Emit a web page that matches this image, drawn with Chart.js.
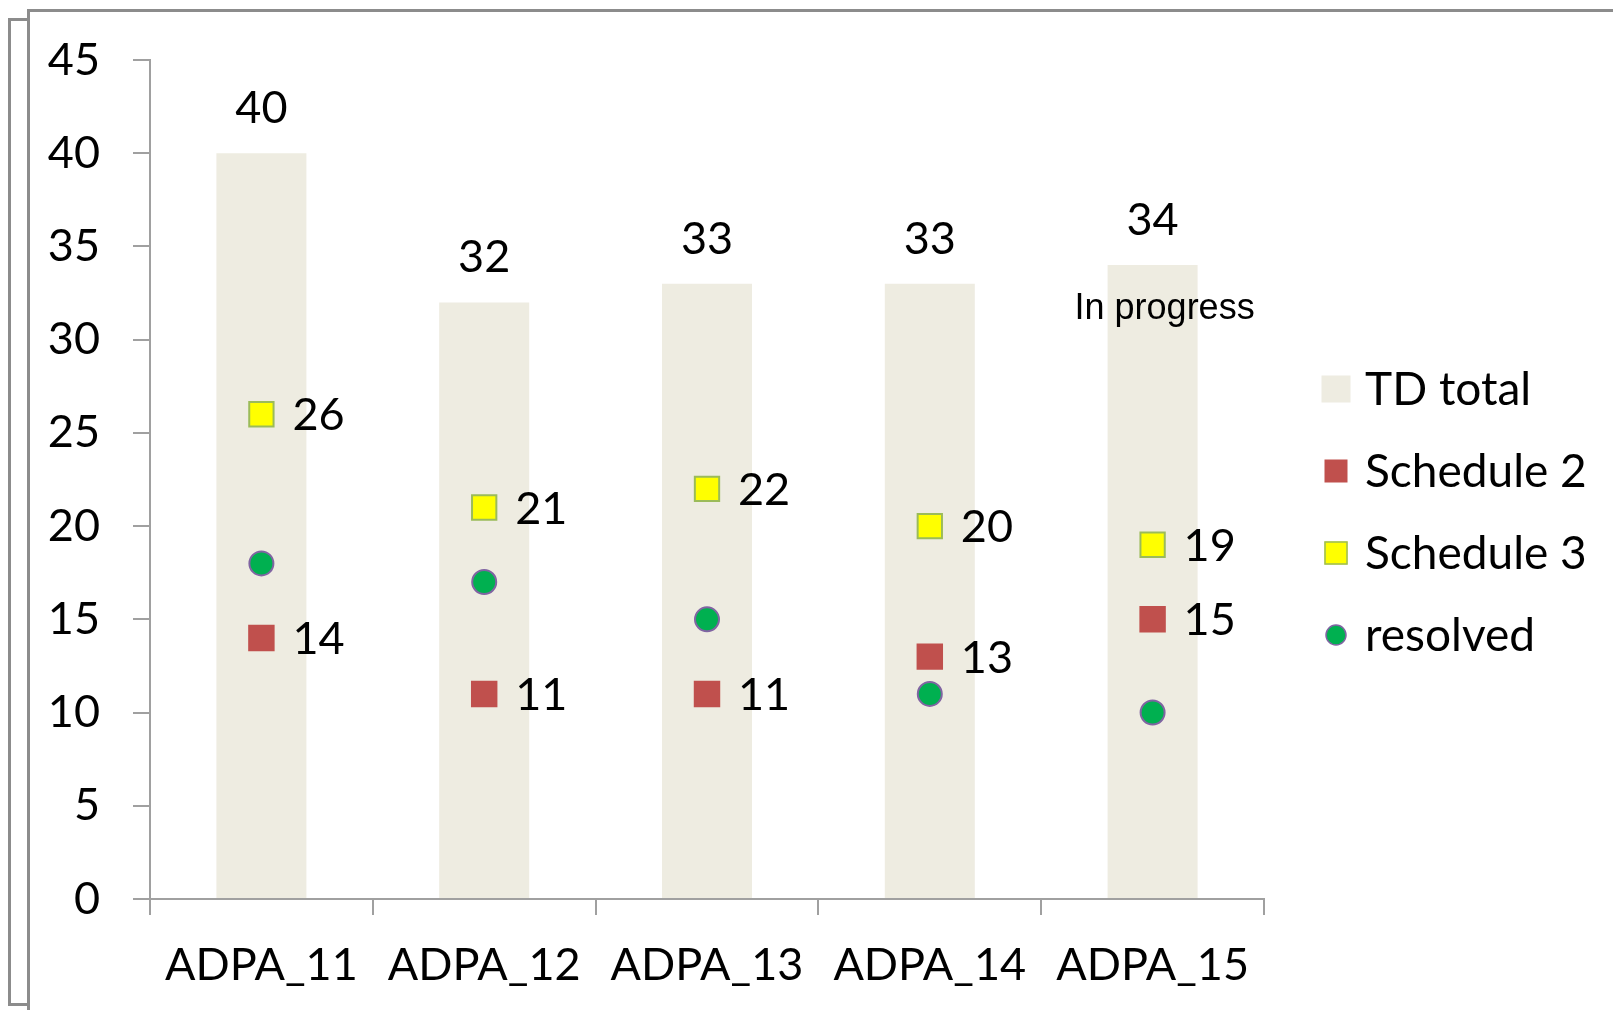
<!DOCTYPE html>
<html lang="en">
<head>
  <meta charset="UTF-8">
  <title>TD per release</title>
  <script src="https://cdn.jsdelivr.net/npm/chart.js"></script>
  <style>
    html, body {
      margin: 0;
      padding: 0;
      background: #fff;
    }
    .wrap {
      position: relative;
      width: 1613px;
      height: 1010px;
      overflow: hidden;
    }
    .frame {
      position: absolute;
      border: 3px solid #8c8c8c;
    }
    canvas {
      position: absolute;
      left: 0;
      top: 0;
    }
  </style>
</head>
<body>

  <div class="wrap">
    <div class="frame" style="left:8px; top:18px; width:20px; height:982px;"></div>
    <div class="frame" style="left:27px; top:9px; width:1700px; height:1100px; background:#fff;"></div>
    <canvas id="tdChart" width="1613" height="1010"></canvas>
  </div>

  <script>
    const categories = ['ADPA_11', 'ADPA_12', 'ADPA_13', 'ADPA_14', 'ADPA_15'];
    const tdTotal = [40, 32, 33, 33, 34];
    const schedule2 = [14, 11, 11, 13, 15];
    const schedule3 = [26, 21, 22, 20, 19];
    const resolved = [18, 17, 15, 11, 10];
    const yMax = 45;
    const yStep = 5;
    const noteText = 'In progress';

    const axisGray = '#a0a0a0';
    const mainFont = 'Lato';

    // data labels, the note on the last bar and the legend
    const labelPlugin = {
      id: 'valueLabels',
      afterDraw(chart) {
        const ctx = chart.ctx;
        const size = 45;
        const cap = size * 0.358;
        ctx.save();
        ctx.fillStyle = '#000';
        ctx.font = size + 'px ' + mainFont;
        ctx.textBaseline = 'alphabetic';

        // totals above bars
        ctx.textAlign = 'center';
        chart.getDatasetMeta(0).data.forEach((bar, i) => {
          ctx.fillText(String(tdTotal[i]), bar.x, bar.y - 46 + cap);
        });

        // values to the right of the schedule markers
        ctx.textAlign = 'left';
        [1, 2].forEach(di => {
          const values = chart.data.datasets[di].data;
          chart.getDatasetMeta(di).data.forEach((pt, i) => {
            ctx.fillText(String(values[i]), pt.x + 31, pt.y + cap);
          });
        });

        // note on the last bar
        const last = chart.getDatasetMeta(0).data[tdTotal.length - 1];
        ctx.font = '36px "Liberation Sans"';
        ctx.textAlign = 'center';
        ctx.fillText(noteText, last.x + 12, last.y + 41 + 36 * 0.358);

        // legend
        const lx = chart.chartArea.right + 72;
        const textX = chart.chartArea.right + 101;
        ctx.font = '46px ' + mainFont;
        ctx.textAlign = 'left';
        chart.data.datasets.forEach((ds, i) => {
          const cy = 389 + i * 82;
          if (i === 0) {
            ctx.fillStyle = ds.backgroundColor;
            ctx.fillRect(lx - 14.5, cy - 13.5, 29, 27);
          } else if (ds.pointStyle === 'rect') {
            ctx.fillStyle = ds.pointBackgroundColor;
            ctx.fillRect(lx - 11.5, cy - 11.5, 23, 23);
            if (ds.pointBorderWidth) {
              ctx.strokeStyle = ds.pointBorderColor;
              ctx.lineWidth = 1.5;
              ctx.strokeRect(lx - 11, cy - 11, 22, 22);
            }
          } else {
            ctx.beginPath();
            ctx.arc(lx, cy, 10, 0, Math.PI * 2);
            ctx.fillStyle = ds.pointBackgroundColor;
            ctx.fill();
            ctx.strokeStyle = ds.pointBorderColor;
            ctx.lineWidth = 1.5;
            ctx.stroke();
          }
          ctx.fillStyle = '#000';
          ctx.fillText(ds.label, textX, cy + 46 * 0.358);
        });
        ctx.restore();
      }
    };

    const ctx = document.getElementById('tdChart').getContext('2d');
    const tdChart = new Chart(ctx, {
      type: 'bar',
      data: {
        labels: categories,
        datasets: [
          {
            label: 'TD total',
            data: tdTotal,
            backgroundColor: '#eeece1',
            barPercentage: 0.404,
            categoryPercentage: 1.0,
            order: 10
          },
          {
            type: 'line',
            label: 'Schedule 2',
            data: schedule2,
            showLine: false,
            pointStyle: 'rect',
            pointRadius: 18.7,
            pointHoverRadius: 18.7,
            pointBorderWidth: 0,
            pointBackgroundColor: '#c0504d',
            pointBorderColor: '#c0504d',
            order: 1
          },
          {
            type: 'line',
            label: 'Schedule 3',
            data: schedule3,
            showLine: false,
            pointStyle: 'rect',
            pointRadius: 17.2,
            pointHoverRadius: 17.2,
            pointBorderWidth: 2,
            pointBackgroundColor: '#ffff00',
            pointBorderColor: '#9bbb59',
            order: 1
          },
          {
            type: 'line',
            label: 'resolved',
            data: resolved,
            showLine: false,
            pointStyle: 'circle',
            pointRadius: 12,
            pointHoverRadius: 12,
            pointBorderWidth: 2,
            pointBackgroundColor: '#00b050',
            pointBorderColor: '#8064a2',
            order: 1
          }
        ]
      },
      options: {
        responsive: false,
        animation: false,
        events: [],
        layout: {
          padding: { top: 58, right: 349, bottom: 0, left: 0 }
        },
        plugins: {
          legend: { display: false },
          tooltip: { enabled: false }
        },
        scales: {
          x: {
            offset: true,
            grid: {
              offset: true,
              drawOnChartArea: false,
              drawTicks: true,
              tickLength: 16,
              color: axisGray,
              lineWidth: 2
            },
            border: { display: true, color: axisGray, width: 2 },
            ticks: {
              color: '#000',
              font: { family: mainFont, size: 45 },
              padding: 23,
              maxRotation: 0,
              autoSkip: false
            },
            afterFit(scale) { scale.height = 111; }
          },
          y: {
            min: 0,
            max: yMax,
            grid: {
              drawOnChartArea: false,
              drawTicks: true,
              tickLength: 17,
              color: axisGray,
              lineWidth: 2
            },
            border: { display: true, color: axisGray, width: 2 },
            ticks: {
              stepSize: yStep,
              color: '#000',
              font: { family: mainFont, size: 45 },
              padding: 33
            },
            afterFit(scale) { scale.width = 150; }
          }
        }
      },
      plugins: [labelPlugin]
    });
  </script>

</body>
</html>
